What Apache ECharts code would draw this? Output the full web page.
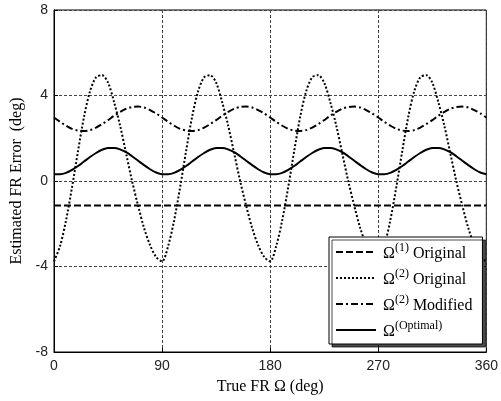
<!DOCTYPE html>
<html>
<head>
<meta charset="utf-8">
<script src="https://cdn.jsdelivr.net/npm/echarts@6/dist/echarts.min.js"></script>
<style>html,body{margin:0;padding:0;background:#fff;}#c{width:501px;height:401px;}</style>
</head>
<body>
<div id="c"></div>
<script>
// Sample positions (deg)
var angles = [0,5,10,15,20,25,30,35,40,45,50,55,60,65,70,75,80,85,
  90,95,100,105,110,115,120,125,130,135,140,145,150,155,160,165,170,175,
  180,185,190,195,200,205,210,215,220,225,230,235,240,245,250,255,260,265,
  270,275,280,285,290,295,300,305,310,315,320,325,330,335,340,345,350,355,360];

// Omega(1) Original (constant)
var o1Angles = [0, 360];
var o1Values = [-1.15, -1.15];

// Omega(2) Original
var o2Values = [
  -3.76,-3.05,-1.85,-0.30,1.40,3.00,4.20,4.85,4.95,4.60,3.70,2.60,1.30,0.00,-1.15,-2.20,-3.00,-3.55,
  -3.76,-3.05,-1.85,-0.30,1.40,3.00,4.20,4.85,4.95,4.60,3.70,2.60,1.30,0.00,-1.15,-2.20,-3.00,-3.55,
  -3.76,-3.05,-1.85,-0.30,1.40,3.00,4.20,4.85,4.95,4.60,3.70,2.60,1.30,0.00,-1.15,-2.20,-3.00,-3.55,
  -3.76,-3.05,-1.85,-0.30,1.40,3.00,4.20,4.85,4.95,4.60,3.70,2.60,1.30,0.00,-1.15,-2.20,-3.00,-3.55,
  -3.76];

// Omega(2) Modified
var o2mValues = [
  2.97,2.77,2.59,2.44,2.36,2.34,2.38,2.50,2.66,2.85,3.05,3.23,3.38,3.46,3.48,3.44,3.32,3.16,
  2.97,2.77,2.59,2.44,2.36,2.34,2.38,2.50,2.66,2.85,3.05,3.23,3.38,3.46,3.48,3.44,3.32,3.16,
  2.97,2.77,2.59,2.44,2.36,2.34,2.38,2.50,2.66,2.85,3.05,3.23,3.38,3.46,3.48,3.44,3.32,3.16,
  2.97,2.77,2.59,2.44,2.36,2.34,2.38,2.50,2.66,2.85,3.05,3.23,3.38,3.46,3.48,3.44,3.32,3.16,
  2.97];

// Omega(Optimal)
var optValues = [
  0.32,0.32,0.38,0.52,0.70,0.91,1.12,1.31,1.46,1.54,1.54,1.48,1.35,1.16,0.95,0.74,0.55,0.40,
  0.32,0.32,0.38,0.52,0.70,0.91,1.12,1.31,1.46,1.54,1.54,1.48,1.35,1.16,0.95,0.74,0.55,0.40,
  0.32,0.32,0.38,0.52,0.70,0.91,1.12,1.31,1.46,1.54,1.54,1.48,1.35,1.16,0.95,0.74,0.55,0.40,
  0.32,0.32,0.38,0.52,0.70,0.91,1.12,1.31,1.46,1.54,1.54,1.48,1.35,1.16,0.95,0.74,0.55,0.40,
  0.32];

var seriesNames = ['O1', 'O2', 'O2m', 'Opt'];
var legendLabels = {
  'O1': '{o|Ω}{s|(1)}{o| Original}',
  'O2': '{o|Ω}{s|(2)}{o| Original}',
  'O2m': '{o|Ω}{s|(2)}{o| Modified}',
  'Opt': '{o|Ω}{s|(Optimal)}'
};

var xTicks = [0, 90, 180, 270, 360];
var yTicks = [-8, -4, 0, 4, 8];

function pairs(xs, ys) { return xs.map(function (x, i) { return [x, ys[i]]; }); }

var serif = 'Liberation Serif';
var sans = 'Liberation Sans';

var chart = echarts.init(document.getElementById('c'), null, {renderer: 'canvas'});
chart.setOption({
  animation: false,
  backgroundColor: '#fff',
  color: ['#000', '#000', '#000', '#000'],
  grid: {left: 54, right: 14, top: 10, bottom: 49, show: true, borderColor: '#000', borderWidth: 1},
  xAxis: {
    type: 'value', min: xTicks[0], max: xTicks[xTicks.length - 1], interval: 90,
    name: 'True FR Ω (deg)', nameLocation: 'middle', nameGap: 27,
    nameTextStyle: {fontFamily: serif, fontSize: 16, color: '#000'},
    axisLine: {show: true, onZero: false, lineStyle: {color: '#000', width: 1}},
    axisTick: {show: true, inside: true, length: 4, lineStyle: {color: '#000'}},
    axisLabel: {fontFamily: sans, fontSize: 14, color: '#222', margin: 7},
    splitLine: {show: true, lineStyle: {color: '#444', width: 1, type: [3, 2]}}
  },
  yAxis: {
    type: 'value', min: yTicks[0], max: yTicks[yTicks.length - 1], interval: 4,
    name: 'Estimated FR Error  (deg)', nameLocation: 'middle', nameGap: 25,
    nameTextStyle: {fontFamily: serif, fontSize: 16, color: '#000'},
    axisLine: {show: true, onZero: false, lineStyle: {color: '#000', width: 1}},
    axisTick: {show: true, inside: true, length: 4, lineStyle: {color: '#000'}},
    axisLabel: {fontFamily: sans, fontSize: 14, color: '#222', margin: 6},
    splitLine: {show: true, lineStyle: {color: '#444', width: 1, type: [3, 2]}}
  },
  legend: {
    orient: 'vertical', left: 329, top: 237,
    data: seriesNames,
    backgroundColor: '#fff', borderColor: '#000', borderWidth: 1, borderRadius: 0,
    shadowColor: 'rgba(0,0,0,0.7)', shadowOffsetX: 3, shadowOffsetY: 3, shadowBlur: 0,
    padding: [5, 10, 4, 6], itemGap: 6, itemWidth: 40, itemHeight: 14,
    itemStyle: {color: 'rgba(0,0,0,0)', borderColor: 'rgba(0,0,0,0)', borderWidth: 0},
    formatter: function (n) { return legendLabels[n]; },
    textStyle: {
      fontFamily: serif, fontSize: 16, color: '#000', padding: [0, 0, 0, 2],
      rich: {
        o: {fontFamily: serif, fontSize: 16, lineHeight: 20, verticalAlign: 'bottom', color: '#000'},
        s: {fontFamily: serif, fontSize: 12, lineHeight: 12, verticalAlign: 'top', color: '#000'}
      }
    }
  },
  series: [
    {name: 'O1', type: 'line', symbol: 'none', data: pairs(o1Angles, o1Values),
      itemStyle: {color: '#000'}, lineStyle: {color: '#000', width: 2, type: [7, 3]}, z: 3},
    {name: 'O2', type: 'line', symbol: 'none', smooth: 0.3, data: pairs(angles, o2Values),
      itemStyle: {color: '#000'}, lineStyle: {color: '#000', width: 2, type: [2, 2]}, z: 3},
    {name: 'O2m', type: 'line', symbol: 'none', smooth: 0.3, data: pairs(angles, o2mValues),
      itemStyle: {color: '#000'}, lineStyle: {color: '#000', width: 2, type: [7, 3, 2, 3]}, z: 3},
    {name: 'Opt', type: 'line', symbol: 'none', smooth: 0.3, data: pairs(angles, optValues),
      itemStyle: {color: '#000'}, lineStyle: {color: '#000', width: 2, type: 'solid'}, z: 3}
  ]
});
</script>
</body>
</html>
